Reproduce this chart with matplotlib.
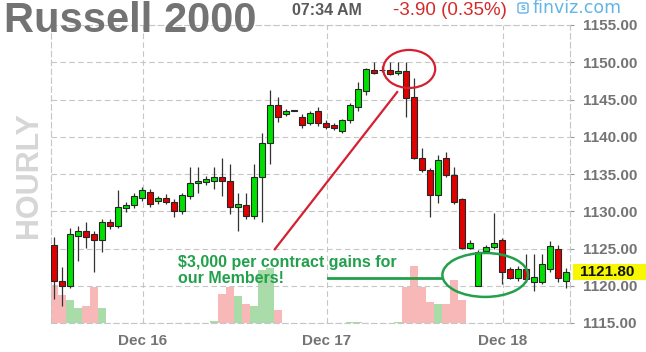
import matplotlib
matplotlib.use('Agg')
import matplotlib.pyplot as plt
from matplotlib.patches import Ellipse, Rectangle, FancyBboxPatch
import matplotlib.transforms as mtransforms
import numpy as np

# ---------------- data (hourly candles) ----------------
opens = [1125.5, 1120.7, 1119.9, 1126.7, 1127.4, 1126.9, 1126.1, 1128.5, 1128.0, 1130.4,
         1130.8, 1131.8, 1132.6, 1131.4, 1131.8, 1131.2, 1130.0, 1132.0, 1133.8, 1133.9,
         1134.0, 1134.6, 1134.0, 1130.6, 1130.8, 1129.3, 1134.6, 1139.2, 1144.3, 1143.0,
         1143.5, 1142.7, 1141.9, 1143.5, 1141.9, 1141.6, 1140.8, 1142.2, 1144.0, 1146.1,
         1149.0, 1149.0, 1149.0, 1148.6, 1148.8, 1145.4, 1137.2, 1135.6, 1132.2, 1137.2,
         1134.9, 1131.6, 1125.1, 1120.0, 1124.6, 1125.2, 1126.2, 1122.2, 1121.0, 1122.2,
         1120.5, 1120.5, 1122.2, 1124.9, 1120.6]
highs = [1126.5, 1122.5, 1127.8, 1128.0, 1128.6, 1127.3, 1129.0, 1128.9, 1132.9, 1131.3,
         1132.4, 1133.2, 1133.0, 1132.0, 1132.3, 1131.6, 1132.4, 1135.9, 1135.9, 1134.7,
         1136.0, 1137.1, 1136.3, 1132.5, 1132.5, 1136.3, 1140.5, 1146.3, 1145.4, 1143.7,
         1143.6, 1143.0, 1143.4, 1144.0, 1142.3, 1141.9, 1142.4, 1144.5, 1147.4, 1149.2,
         1150.0, 1149.5, 1150.0, 1150.0, 1150.0, 1147.9, 1138.5, 1135.8, 1137.6, 1138.0,
         1136.0, 1131.8, 1126.2, 1124.8, 1125.5, 1129.8, 1126.4, 1122.5, 1122.6, 1124.2,
         1124.2, 1124.3, 1126.0, 1125.5, 1122.4]
lows = [1118.2, 1117.3, 1119.7, 1123.3, 1125.1, 1121.9, 1124.5, 1127.6, 1127.7, 1129.9,
        1130.4, 1131.4, 1130.6, 1131.0, 1131.0, 1129.2, 1129.6, 1131.6, 1132.5, 1133.5,
        1133.0, 1132.0, 1129.6, 1127.3, 1128.9, 1128.9, 1128.6, 1136.3, 1142.0, 1142.8,
        1143.4, 1141.2, 1141.6, 1141.5, 1141.1, 1140.9, 1140.5, 1141.8, 1143.4, 1145.6,
        1148.4, 1148.7, 1148.3, 1148.3, 1142.7, 1137.0, 1135.3, 1129.2, 1131.1, 1134.6,
        1131.0, 1125.0, 1125.0, 1120.0, 1124.4, 1125.0, 1120.2, 1120.9, 1120.7, 1120.5,
        1119.3, 1120.2, 1121.8, 1120.5, 1119.7]
closes = [1120.6, 1119.9, 1126.9, 1127.4, 1126.5, 1126.1, 1128.5, 1128.0, 1130.6, 1130.9,
          1132.0, 1132.8, 1131.0, 1131.8, 1131.2, 1130.0, 1132.2, 1133.8, 1134.0, 1134.3,
          1134.6, 1134.0, 1130.6, 1131.0, 1129.3, 1134.6, 1139.2, 1144.3, 1142.7, 1143.4,
          1143.5, 1141.6, 1143.2, 1141.8, 1141.3, 1141.2, 1142.2, 1144.3, 1146.4, 1149.1,
          1148.5, 1148.9, 1148.4, 1148.8, 1145.2, 1137.2, 1135.6, 1132.2, 1136.9, 1134.9,
          1131.2, 1125.1, 1125.8, 1124.5, 1125.2, 1125.7, 1121.8, 1121.1, 1122.3, 1120.9,
          1121.2, 1122.9, 1125.3, 1121.1, 1121.8]
volumes = [3800, 2800, 2300, 1500, 1700, 3600, 1500, 0, 0, 0,
           0, 0, 0, 0, 0, 0, 0, 0, 0, 0,
           200, 2900, 3600, 2700, 1900, 1700, 5300, 5500, 1300, 0,
           0, 0, 0, 0, 0, 0, 0, 100, 100, 0,
           0, 0, 0, 100, 3600, 5700, 3600, 2100, 1900, 1900,
           4300, 2300, 0, 0, 0, 0, 0, 0, 0, 0,
           0, 0, 0, 0, 0]
date_tick_pos = [11.1, 34.1, 56.1]
date_tick_labels = ['Dec 16', 'Dec 17', 'Dec 18']
price_ticks = [1115, 1120, 1125, 1130, 1135, 1140, 1145, 1150, 1155]
last_price = 1121.80

title = 'Russell 2000'
time_text = '07:34 AM'
change_text = '-3.90 (0.35%)'
site_text = 'finviz.com'
period_text = 'HOURLY'
note_lines = ['$3,000 per contract gains for', 'our Members!']

# ---------------- figure ----------------
W, H = 646, 352
fig = plt.figure(figsize=(W / 100, H / 100), dpi=100)
fig.patch.set_facecolor('white')

def fx(px):
    return px / W

def fy(py):
    return 1 - py / H

rect = [fx(51), fy(323), 519 / W, 298 / H]
axv = fig.add_axes(rect)
ax = fig.add_axes(rect, facecolor='none')

n = len(opens)
x = np.arange(n)
o = np.array(opens); c = np.array(closes); h = np.array(highs); l = np.array(lows)
up = c >= o

GREEN = '#00e000'
RED = '#e00000'
VOL_G = '#a9dca9'
VOL_R = '#f9b8b8'
GRID = '#c6c6c6'
LABEL = '#747474'

# volume (behind)
axv.bar(x, volumes, width=1.0, color=[VOL_G if u else VOL_R for u in up],
        linewidth=0, align='center')
axv.set_xlim(-0.375, 64.5)
axv.set_ylim(0, 29800)
axv.axis('off')

# price axes
ax.set_xlim(-0.375, 64.5)
ax.set_ylim(1115, 1155)
ax.set_axisbelow(True)
ax.grid(True, color=GRID, linestyle=(0, (5, 3)), linewidth=0.8)
for s in ax.spines.values():
    s.set_color(GRID)
    s.set_linestyle((0, (5, 3)))
    s.set_linewidth(0.8)

# wicks
ax.vlines(x, l, h, color='#333333', linewidth=0.9, zorder=2)
# bodies
body_bottom = np.minimum(o, c)
body_h = np.maximum(np.abs(c - o), 0.12)
ax.bar(x, body_h, bottom=body_bottom, width=0.75,
       color=[GREEN if u else RED for u in up],
       edgecolor='#262626', linewidth=0.8, zorder=3)

ax.set_xticks(date_tick_pos)
ax.set_xticklabels(date_tick_labels)
ax.set_yticks(price_ticks)
ax.set_yticklabels(['%.2f' % v for v in price_ticks])
ax.yaxis.tick_right()
ax.tick_params(axis='x', length=0, pad=8, labelsize=11, labelcolor=LABEL)
ax.tick_params(axis='y', length=3, width=0.8, color='#999999', pad=6,
               labelsize=11, labelcolor=LABEL)
for lab in ax.get_xticklabels() + ax.get_yticklabels():
    lab.set_fontfamily('Liberation Sans')
    lab.set_fontweight('bold')

# last price yellow label
bt = mtransforms.blended_transform_factory(fig.transFigure, ax.transData)
ax.add_patch(Rectangle((fx(573), last_price - 1.07), fx(646) - fx(573) + 0.01, 2.14,
                       transform=bt, facecolor='#f7f700', edgecolor='none',
                       clip_on=False, zorder=6))
ax.text(fx(580), last_price, '%.2f' % last_price, transform=bt, ha='left', va='center',
        fontsize=11, fontweight='bold', family='Liberation Sans', color='#111111',
        zorder=7, clip_on=False)

# header texts
fig.text(fx(4), fy(32), title, fontsize=30, fontweight='bold', family='Liberation Sans',
         color='#737373', va='baseline', ha='left')
fig.text(fx(292), fy(15), time_text, fontsize=11.5, fontweight='bold',
         family='Liberation Sans', color='#5a5a5a', va='baseline', ha='left')
fig.text(fx(393), fy(15), change_text, fontsize=13.5, family='Liberation Sans',
         color='#d42a2a', va='baseline', ha='left')
fig.patches.append(FancyBboxPatch((fx(518), fy(13)), fx(10), 10 / H,
                                  boxstyle='round,pad=0.0,rounding_size=0.004',
                                  transform=fig.transFigure, facecolor='none',
                                  edgecolor='#64b4e6', linewidth=1.0))
fig.text(fx(523), fy(8), 's', fontsize=6, fontweight='bold', family='DejaVu Sans',
         color='#64b4e6', va='center', ha='center')
fig.text(fx(533), fy(13), site_text, fontsize=12.5, family='DejaVu Sans',
         color='#64b4e6', va='baseline', ha='left')
fig.text(fx(29), fy(175), period_text, fontsize=22, fontweight='bold',
         family='Liberation Sans', color='#d6d6d6', rotation=90,
         va='center', ha='center')

# annotations
ann_red = '#d42030'
ann_green = '#22a04b'
ax.add_patch(Ellipse((44.4, 1149.1), 6.5, 5.1, facecolor='none', edgecolor=ann_red,
                     linewidth=1.6, zorder=8, clip_on=False))
ax.plot([27.6, 42.9], [1124.9, 1146.0], color=ann_red, linewidth=1.6, zorder=8)
ax.add_patch(Ellipse((53.9, 1121.45), 10.7, 5.9, facecolor='none', edgecolor=ann_green,
                     linewidth=1.8, zorder=8, clip_on=False))
ax.plot([34.25, 48.4], [1121.05, 1121.05], color=ann_green, linewidth=2.0, zorder=8)
fig.text(fx(178), fy(267), note_lines[0], fontsize=11.5, fontweight='bold',
         family='Liberation Sans', color=ann_green, va='baseline', ha='left', zorder=9)
fig.text(fx(178), fy(283), note_lines[1], fontsize=11.5, fontweight='bold',
         family='Liberation Sans', color=ann_green, va='baseline', ha='left', zorder=9)

fig.savefig('out.png', dpi=100, facecolor='white')
